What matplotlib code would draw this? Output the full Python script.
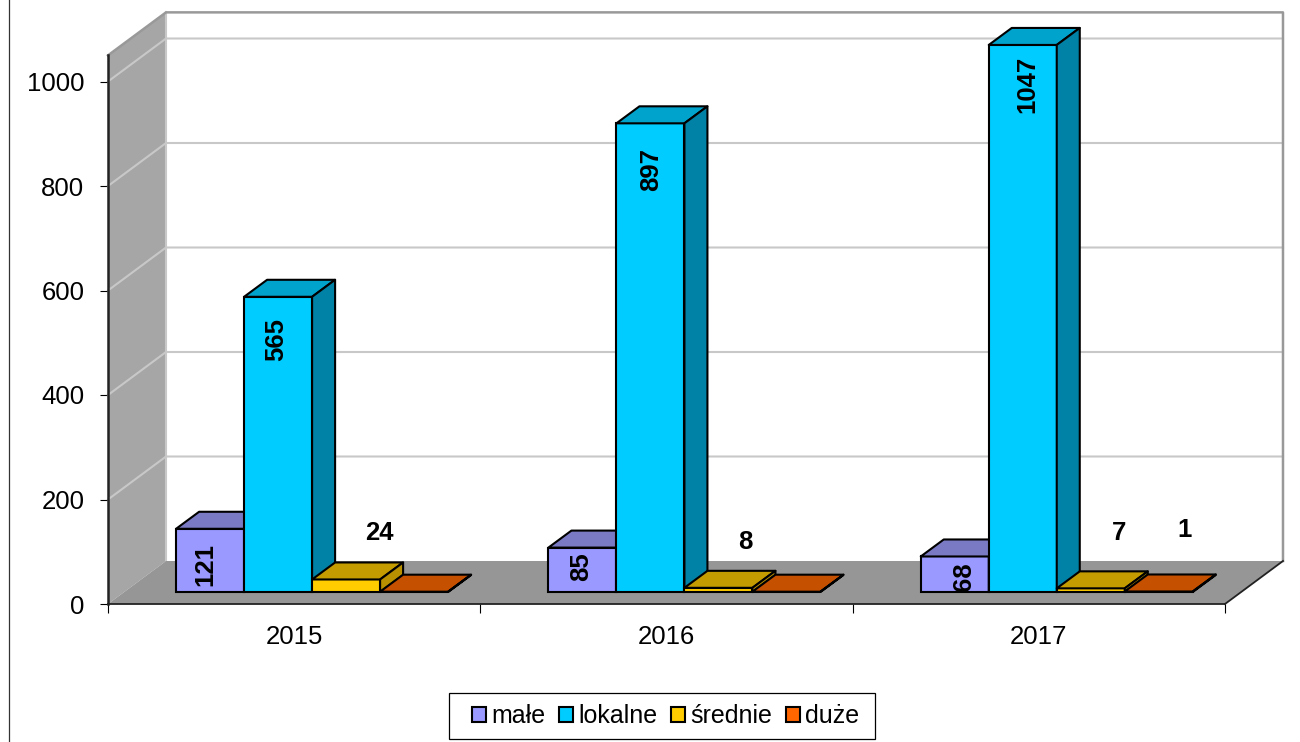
import matplotlib
matplotlib.use('Agg')
import matplotlib.pyplot as plt
from matplotlib.lines import Line2D
from matplotlib.patches import Patch, Rectangle

years = ['2015', '2016', '2017']
series_names = ['małe', 'lokalne', 'średnie', 'duże']
male = [121, 85, 68]
lokalne = [565, 897, 1047]
srednie = [24, 8, 7]
duze = [0.6, 0.6, 1]
y_ticks = [0, 200, 400, 600, 800, 1000]
y_top = 1050

# labels as printed, None = no label on the chart
labels_male = ['121', '85', '68']
labels_lokalne = ['565', '897', '1047']
labels_srednie = ['24', '8', '7']
labels_duze = [None, None, '1']

# label centre, pixels away from the middle of the bar's top edge
offs_male = [(-5, -36), (-1, -19), (9, -20)]
offs_lokalne = [(-2, -43), (1, -46), (5, -39)]
offs_srednie = [(33, 46), (27, 46), (28, 55)]
offs_duze = [None, None, (26, 61)]

face = ['#9999ff', '#00ccff', '#ffcc00', '#ff6600']
front = ['#9999ff', '#00ccff', '#ffcc00', '#c45000']
top = ['#7a7ac4', '#00a3cc', '#c49c00', '#c45000']
side = ['#6a6ab0', '#0082a6', '#b89000', '#a04000']

# one category and one value in pixels
px_x = 372.33
px_y = 0.5225
x0, y0 = 108, 604

dpi = 100
plt.rcParams['font.family'] = 'Liberation Sans'
fig = plt.figure(figsize=(13, 7.42), dpi=dpi)
ax = fig.add_axes([0, 0, 1, 1])
ax.set_xlim(-x0 / px_x, (1300 - x0) / px_x)
ax.set_ylim(-(742 - y0) / px_y, y0 / px_y)
ax.patch.set_alpha(0)

# depth of the box and of the bars
box_dx, box_dy = 58 / px_x, 43 / px_y
bar_dx, bar_dy = 23 / px_x, 17 / px_y
bar_w = 68 / px_x
lift_x, lift_y = 17.5 / px_x, 12 / px_y
gap = 50.6 / px_x

# walls
ax.fill([0, 0, box_dx, box_dx], [0, y_top, y_top + box_dy, box_dy], color='#a6a6a6', lw=0, zorder=1)
ax.plot([box_dx, box_dx], [box_dy, y_top + box_dy], color='#c8c8c8', lw=1.5, zorder=2)
for v in y_ticks[1:]:
    ax.plot([0, box_dx, 3 + box_dx], [v, v + box_dy, v + box_dy], color='#c8c8c8', lw=1.5, zorder=2)
ax.plot([0, box_dx, 3 + box_dx, 3 + box_dx], [y_top, y_top + box_dy, y_top + box_dy, box_dy],
        color='#999999', lw=1.8, zorder=2)

# floor
ax.fill([0, box_dx, 3 + box_dx, 3], [0, box_dy, box_dy, 0], color='#969696', lw=0, zorder=3)
ax.plot([3, 3 + box_dx], [0, box_dy], color='#222222', lw=1.3, zorder=3)

# bars, left to right so that each one hides the side of the last
series = [male, lokalne, srednie, duze]
all_labels = [labels_male, labels_lokalne, labels_srednie, labels_duze]
all_offs = [offs_male, offs_lokalne, offs_srednie, offs_duze]
z = 4
for i in range(len(years)):
    for j, vals in enumerate(series):
        v = vals[i]
        x = i + lift_x + gap + j * bar_w
        b = lift_y
        ax.bar(x, v, bar_w, bottom=b, align='edge', color=front[j], edgecolor='black', lw=1.5, zorder=z)
        ax.fill([x, x + bar_dx, x + bar_w + bar_dx, x + bar_w],
                [b + v, b + v + bar_dy, b + v + bar_dy, b + v],
                facecolor=top[j], edgecolor='black', lw=1.5, zorder=z, joinstyle='round')
        ax.fill([x + bar_w, x + bar_w + bar_dx, x + bar_w + bar_dx, x + bar_w],
                [b, b + bar_dy, b + v + bar_dy, b + v],
                facecolor=side[j], edgecolor='black', lw=1.5, zorder=z, joinstyle='round')
        z += 1

for i in range(len(years)):
    for j, vals in enumerate(series):
        lab = all_labels[j][i]
        if lab is None:
            continue
        dx, dy = all_offs[j][i]
        rot = 90 if j < 2 else 0
        ax.annotate(lab, (i + lift_x + gap + (j + 0.5) * bar_w, lift_y + vals[i]),
                    xytext=(dx * 72 / dpi, dy * 72 / dpi), textcoords='offset points',
                    ha='center', va='center', rotation=rot, fontsize=18.5, fontweight='bold',
                    color='black', zorder=50)

# axes
for s in ['top', 'right']:
    ax.spines[s].set_visible(False)
ax.spines['left'].set_position(('data', 0))
ax.spines['bottom'].set_position(('data', 0))
ax.spines['left'].set_bounds(0, y_top)
ax.spines['bottom'].set_bounds(0, 3)
ax.spines['left'].set_linewidth(1.8)
ax.spines['left'].set_color('#222222')
ax.spines['bottom'].set_linewidth(1.3)
ax.spines['bottom'].set_color('#222222')
ax.spines['left'].set_zorder(60)
ax.spines['bottom'].set_zorder(60)
ax.set_yticks(y_ticks)
ax.set_xticks([0, 1, 2, 3])
ax.set_xticklabels([])
ax.set_xticks([0.5, 1.5, 2.5], minor=True)
ax.set_xticklabels(years, minor=True)
ax.tick_params(axis='y', length=5.5, width=0.8, pad=11.5, labelsize=18.5)
ax.tick_params(axis='x', which='major', length=6.5, width=0.8)
ax.tick_params(axis='x', which='minor', length=0, pad=15, labelsize=18.5)

# frame edge on the left of the picture
fig.add_artist(Line2D([8.5 / 1300, 8.5 / 1300], [0, 1], color='#333333', lw=0.9))

# legend box is drawn apart, the text inside sits off centre
fig.add_artist(Rectangle((449 / 1300, 1 - 739 / 742), 426 / 1300, 46 / 742, transform=fig.transFigure,
                         facecolor='white', edgecolor='black', lw=0.9))
handles = [Patch(facecolor=c, edgecolor='black', lw=1.5) for c in face]
leg = ax.legend(handles, series_names, loc='center', bbox_to_anchor=(665.5 / 1300, 1 - 716 / 742),
                bbox_transform=fig.transFigure, ncol=4, fontsize=18, frameon=False,
                handlelength=0.56, handleheight=0.56, handletextpad=0.2,
                columnspacing=0.55, borderpad=0, borderaxespad=0)
leg.set_zorder(70)
leg.remove()
fig.add_artist(leg)

fig.savefig('out.png', dpi=dpi)
